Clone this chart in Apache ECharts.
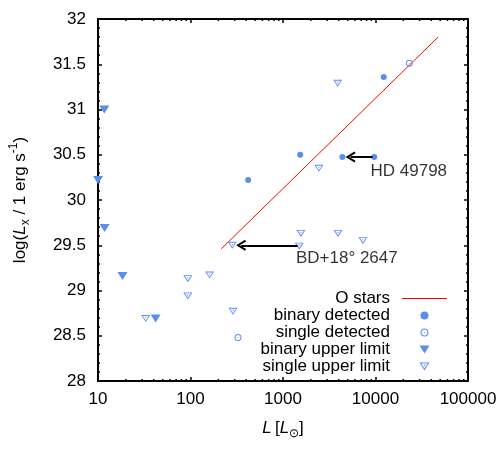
<!DOCTYPE html>
<html>
<head>
<meta charset="utf-8">
<script src="https://cdn.jsdelivr.net/npm/echarts@6/dist/echarts.min.js"></script>
<style>
  html, body { margin: 0; padding: 0; background: #fff; }
  #chart { width: 500px; height: 454px; }
</style>
</head>
<body>
<div id="chart"></div>
<script>
// data: [L / Lsun, log Lx]
var binaryDetected = [[420, 30.22], [1535, 30.50], [4385, 30.475], [9680, 30.475], [12280, 31.36]];
var singleDetected = [[326, 28.48], [23220, 31.51]];
var binaryUpper = [[11.7, 31.0], [10, 30.22], [11.8, 29.69], [18.4, 29.16], [42, 28.69]];
var singleUpper = [[32.8, 28.69], [93.5, 29.13], [93.5, 28.94], [161, 29.17], [288, 28.77], [283, 29.50],
                   [2440, 30.35], [1563, 29.63], [1497, 29.49], [3935, 29.63], [7311, 29.55], [3900, 31.29]];
// O stars relation, end points
var oStarsL = [215, 47500];
var oStarsY = [29.46, 31.80];
// arrows: [from, to]
var arrows = [
  [[9300, 30.475], [5380, 30.475]],
  [[1440, 29.5], [353, 29.5]]
];
// notes: [L, logLx, text]
var notes = [[8830, 30.32, 'HD 49798'], [1380, 29.36, 'BD+18\u00b0 2647']];
var minorTicksL = [20, 30, 40, 50, 60, 70, 80, 90, 200, 300, 400, 500, 600, 700, 800, 900,
                   2000, 3000, 4000, 5000, 6000, 7000, 8000, 9000, 20000, 30000, 40000, 50000, 60000, 70000, 80000, 90000];
var xMin = 10, xMax = 100000;
var yMin = 28, yMax = 32, yStep = 0.5;

var blue = '#5b8def';
var font = 'Liberation Sans, Arial, sans-serif';
var fs = 17;

// symbols
var triFilled = 'path://M0,0L10,0L5,8Z';
var triHollow = 'path://M0,0L10,0L5,8Z M1.8,1L5,6.1L8.2,1Z M4.4,2.2L5.6,2.2L5.6,3.4L4.4,3.4Z';
var ringDot = 'path://M5,0A5,5 0 1 1 5,10A5,5 0 1 1 5,0Z M5,1.4A3.6,3.6 0 1 0 5,8.6A3.6,3.6 0 1 0 5,1.4Z M5,4.3A0.7,0.7 0 1 1 5,5.7A0.7,0.7 0 1 1 5,4.3Z';
var chevron = 'path://M5,0L10,8L8.5,9L5,3.2L1.5,9L0,8Z';
var lineIcon = 'path://M0,0L45,0L45,1L0,1Z';

var chart = echarts.init(document.getElementById('chart'));

var rich = {
  n: { fontSize: fs, fontFamily: font, color: '#000', lineHeight: 24 },
  i: { fontSize: fs, fontFamily: font, color: '#000', lineHeight: 24, fontStyle: 'italic' },
  sub: { fontSize: 12, fontFamily: font, color: '#000', lineHeight: 12, verticalAlign: 'bottom' },
  sup: { fontSize: 12, fontFamily: font, color: '#000', lineHeight: 12, verticalAlign: 'top' }
};

var tickStyle = { color: '#000', width: 1.5 };
var lineAxis = { show: true, lineStyle: { color: '#000', width: 2 } };

var option = {
  animation: false,
  backgroundColor: '#fff',
  textStyle: { fontFamily: font },
  grid: { left: 96, right: 32, top: 19, bottom: 73 },
  legend: {
    orient: 'vertical',
    align: 'right',
    right: 53,
    top: 290,
    padding: 0,
    itemGap: 0,
    itemWidth: 45,
    itemHeight: 8,
    selectedMode: false,
    textStyle: { fontSize: fs, fontFamily: font, color: '#000', lineHeight: 17, padding: [0, 7, 0, 0] },
    data: [
      { name: 'O stars', icon: lineIcon },
      'binary detected', 'single detected', 'binary upper limit', 'single upper limit'
    ]
  },
  xAxis: [{
    type: 'log',
    logBase: 10,
    min: xMin,
    max: xMax,
    name: '{i|L} {n|[}{i|L}{sub|\u2299}{n|]}',
    nameLocation: 'middle',
    nameGap: 35,
    nameTextStyle: { rich: rich },
    axisLine: lineAxis,
    axisTick: { inside: true, length: 4, lineStyle: tickStyle },
    axisLabel: {
      fontSize: fs, color: '#000', fontFamily: font, margin: 10,
      formatter: function (v) { return String(Math.round(v)); }
    },
    splitLine: { show: false }
  }, {
    type: 'log',
    logBase: 10,
    min: xMin,
    max: xMax,
    position: 'top',
    axisLine: lineAxis,
    axisTick: { inside: true, length: 4, lineStyle: tickStyle },
    axisLabel: { show: false },
    splitLine: { show: false }
  }],
  yAxis: [{
    type: 'value',
    min: yMin,
    max: yMax,
    interval: yStep,
    name: '{n|log(}{i|L}{sub|x}{n| / 1 erg s}{sup|-1}{n|)}',
    nameLocation: 'middle',
    nameRotate: 90,
    nameGap: 66,
    nameTextStyle: { rich: rich },
    axisLine: lineAxis,
    axisTick: { inside: true, length: 4, lineStyle: tickStyle },
    minorTick: { show: true, splitNumber: 5, length: 2, lineStyle: tickStyle },
    axisLabel: { fontSize: fs, color: '#000', fontFamily: font, margin: 12 },
    splitLine: { show: false }
  }, {
    type: 'value',
    min: yMin,
    max: yMax,
    interval: yStep,
    position: 'right',
    axisLine: lineAxis,
    axisTick: { inside: true, length: 4, lineStyle: tickStyle },
    minorTick: { show: true, splitNumber: 5, length: 2, lineStyle: tickStyle },
    axisLabel: { show: false },
    splitLine: { show: false }
  }],
  series: [{
    name: 'O stars',
    type: 'line',
    data: oStarsL.map(function (l, k) { return [l, oStarsY[k]]; }),
    showSymbol: false,
    symbol: 'none',
    lineStyle: { color: '#ff0000', width: 1 },
    itemStyle: { color: '#ff0000' },
    silent: true,
    z: 3,
    markLine: {
      silent: true,
      symbol: ['none', chevron],
      symbolSize: [11, 10],
      label: { show: false },
      lineStyle: { color: '#000', width: 2, type: 'solid' },
      itemStyle: { color: '#000' },
      data: arrows.map(function (a) { return [{ coord: a[0] }, { coord: a[1] }]; })
    }
  }, {
    name: 'binary detected',
    type: 'scatter',
    data: binaryDetected,
    symbol: 'circle',
    symbolSize: 6,
    itemStyle: { color: blue, opacity: 1 },
    z: 4
  }, {
    name: 'single detected',
    type: 'scatter',
    data: singleDetected,
    symbol: ringDot,
    symbolSize: 7,
    itemStyle: { color: blue, opacity: 1 },
    z: 4
  }, {
    name: 'binary upper limit',
    type: 'scatter',
    data: binaryUpper,
    symbol: triFilled,
    symbolSize: [10, 8],
    itemStyle: { color: blue, opacity: 1 },
    z: 4
  }, {
    name: 'single upper limit',
    type: 'scatter',
    data: singleUpper,
    symbol: triHollow,
    symbolSize: [9, 7],
    itemStyle: { color: blue, opacity: 1 },
    z: 4
  }, {
    name: 'notes',
    type: 'scatter',
    data: notes,
    symbolSize: 0,
    silent: true,
    label: {
      show: true,
      position: 'right',
      distance: 0,
      fontSize: fs,
      fontFamily: font,
      color: '#000',
      formatter: function (p) { return p.value[2]; }
    },
    z: 5
  }, {
    name: 'minor ticks',
    type: 'custom',
    silent: true,
    clip: false,
    data: minorTicksL.map(function (v) { return [v, yMin]; }),
    renderItem: function (params, api) {
      var v = api.value(0);
      var b = api.coord([v, yMin]);
      var t = api.coord([v, yMax]);
      return {
        type: 'group',
        children: [
          { type: 'line', shape: { x1: b[0], y1: b[1], x2: b[0], y2: b[1] - 2 }, style: { stroke: '#000', lineWidth: 1.5 } },
          { type: 'line', shape: { x1: t[0], y1: t[1], x2: t[0], y2: t[1] + 2 }, style: { stroke: '#000', lineWidth: 1.5 } }
        ]
      };
    },
    z: 6
  }]
};

chart.setOption(option);
</script>
</body>
</html>
